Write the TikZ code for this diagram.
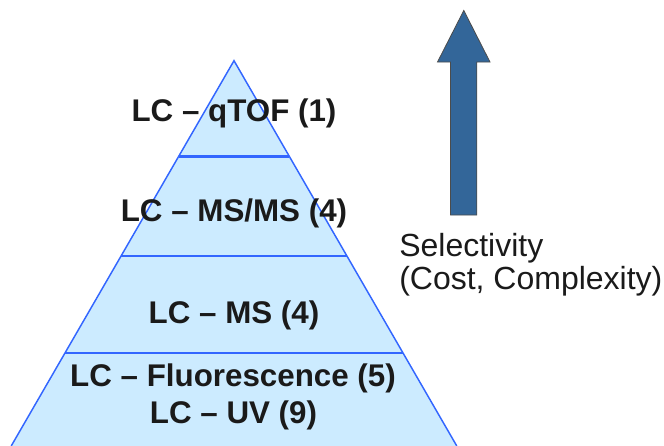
\documentclass[tikz,border=0pt]{standalone}
\usepackage{fontspec}
\setmainfont{Liberation Sans}
\usetikzlibrary{calc}
\definecolor{layerfill}{HTML}{CCEBFF}
\definecolor{layerline}{HTML}{3366FF}
\definecolor{arrowfill}{HTML}{336699}
\definecolor{labeltext}{HTML}{1A1A1A}

\begin{document}
\begin{tikzpicture}[x=0.75pt, y=-0.75pt,
    layerlabel/.style={font=\fontsize{23.5}{28}\selectfont\bfseries, text=labeltext, anchor=base, inner sep=0pt},
    sidelabel/.style={font=\fontsize{24}{28}\selectfont, text=labeltext, anchor=base west, inner sep=0pt}]
		%%%%% START %%%%%
		\useasboundingbox (0, 0) rectangle (664, 446);
		
		\coordinate (apex) at (234, 60.7);
		\coordinate (bl) at (11.2, 446);
		\coordinate (br) at (456.8, 446);
		
		\fill[layerfill] (apex) -- (bl) -- (br) -- cycle;
		\draw[layerline, line width=1.1pt] (bl) -- (apex) -- (br);
		
		% layer borders
		\foreach \f in {0.2486, 0.5071, 0.7586}
			\draw[layerline, line width=1.6pt] ($(apex)!\f!(bl)$) -- ($(apex)!\f!(br)$);
		
		\node[layerlabel] (qtof) at (234, 121.7) {LC -- qTOF (1)};
		\node[layerlabel] (msms) at (234, 221.7) {LC -- MS/MS (4)};
		\node[layerlabel] (ms) at (234, 323.3) {LC -- MS (4)};
		\node[layerlabel] (fluor) at (233, 386.7) {LC -- Fluorescence (5)};
		\node[layerlabel] (uv) at (233.5, 423.3) {LC -- UV (9)};
		
		% selectivity arrow
		\draw[fill=arrowfill, draw=black!70, line width=0.6pt] (450.5, 215) -- (450.5, 62) -- (437.5, 62) -- (463.8, 10.5) -- (490, 62) -- (476.8, 62) -- (476.8, 215) -- cycle;
		
		\node[sidelabel] (sel) at (399, 256) {Selectivity};
		\node[sidelabel] (cost) at (399, 289) {(Cost, Complexity)};
		
		%%%%% END %%%%%
\end{tikzpicture}
\end{document}
